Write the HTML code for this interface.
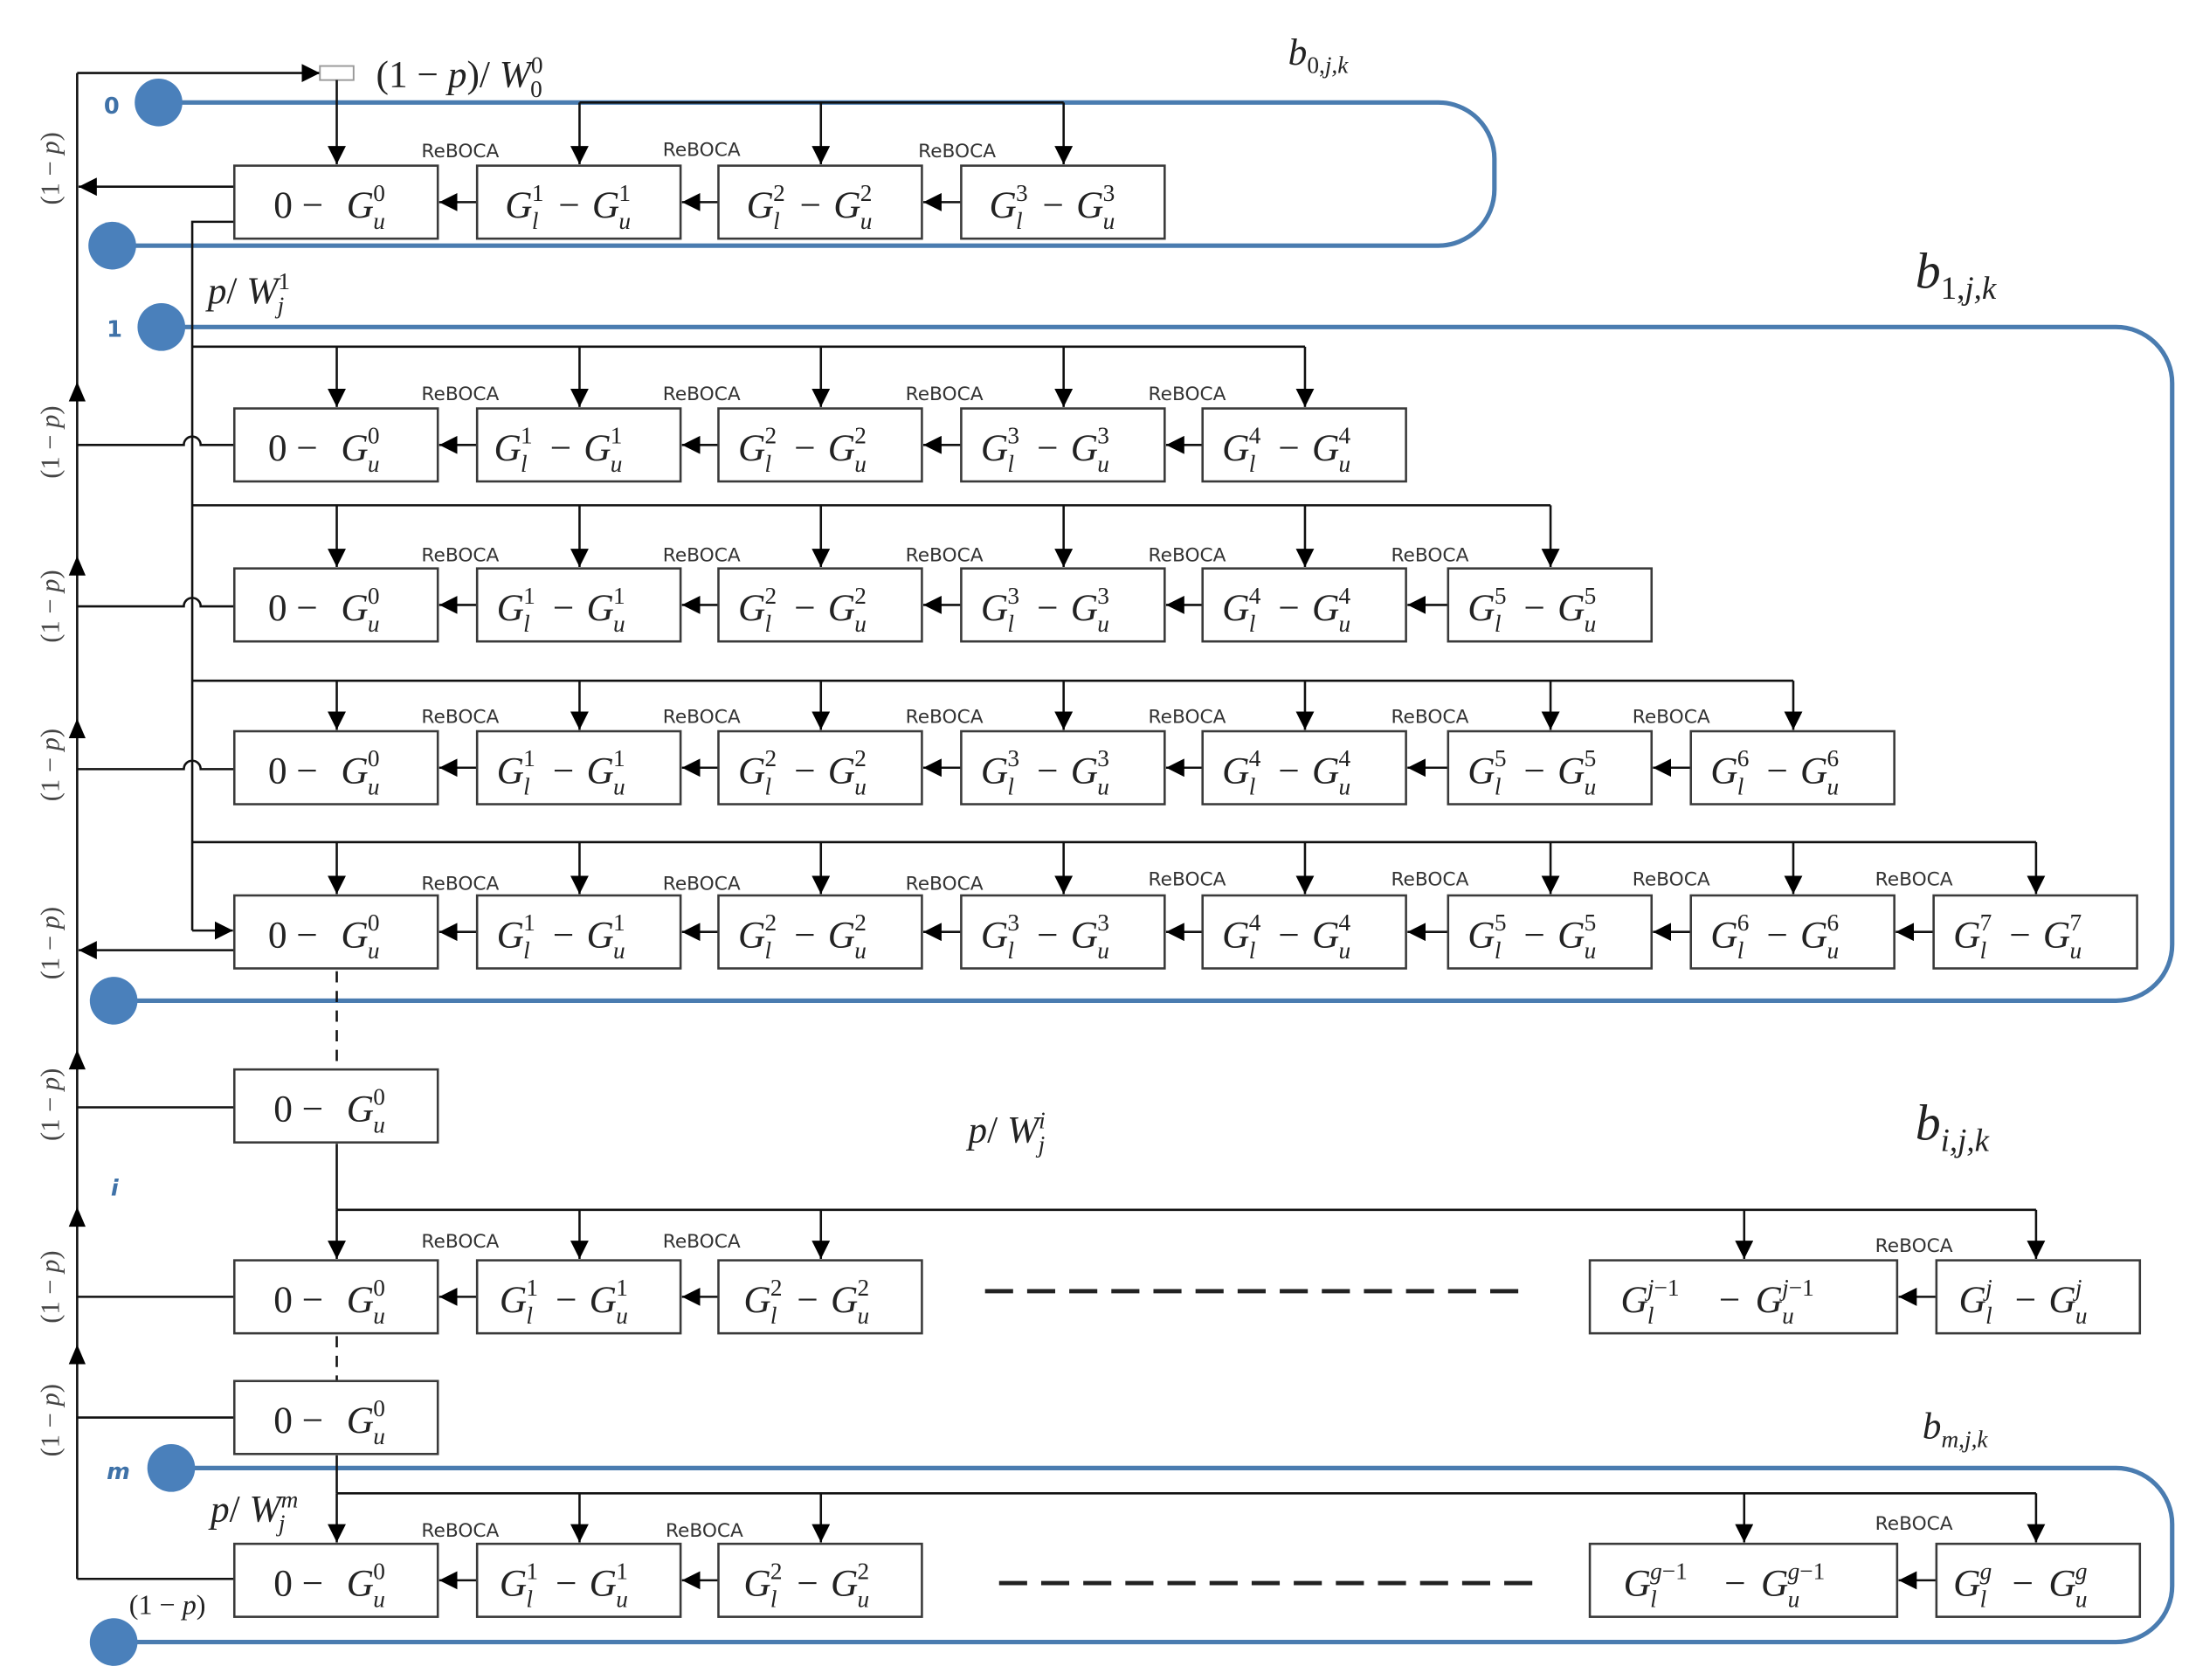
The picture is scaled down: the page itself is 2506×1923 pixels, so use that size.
<!DOCTYPE html>
<html><head><meta charset="utf-8"><style>
html,body{margin:0;padding:0;background:#fff}
svg{display:block}
.b rect{fill:#fff;stroke:#3a3a3a;stroke-width:1.6}
.m{font-family:"Liberation Serif",serif;font-style:italic;font-size:27px;fill:#222}
.m .s{font-size:17px}
.m .n{font-style:normal}
.r{font-family:"DejaVu Sans","Liberation Sans",sans-serif;font-size:13.5px;fill:#333}
.k{stroke:#111;stroke-width:1.6;fill:none}
.bl{stroke:#4a7cb0;stroke-width:3.2;fill:none}
.p{font-family:"Liberation Serif",serif;font-size:19px;fill:#444}
.lbl{font-family:"DejaVu Sans","Liberation Sans",sans-serif;font-weight:bold;font-size:16px;fill:#3f72a8}
</style></head><body>
<svg width="2506" height="1923" viewBox="0 0 1560 1197" xmlns="http://www.w3.org/2000/svg">
<defs>
<marker id="a" viewBox="0 0 10 10" refX="10" refY="5" markerWidth="13" markerHeight="13" markerUnits="userSpaceOnUse" orient="auto"><path d="M0,0 L10,5 L0,10 z" fill="#000"/></marker>
</defs>

<!-- blue loops -->
<path class="bl" d="M113,73 H1025 a40,40 0 0 1 40,40 V135 a40,40 0 0 1 -40,40 H80"/>
<circle cx="113" cy="73" r="17" fill="#4a80bb"/><circle cx="80" cy="175" r="17" fill="#4a80bb"/>
<path class="bl" d="M115,233 H1508 a40,40 0 0 1 40,40 V673 a40,40 0 0 1 -40,40 H81"/>
<circle cx="115" cy="233" r="17" fill="#4a80bb"/><circle cx="81" cy="713" r="17" fill="#4a80bb"/>
<path class="bl" d="M122,1046 H1508 a40,40 0 0 1 40,40 V1130 a40,40 0 0 1 -40,40 H81"/>
<circle cx="122" cy="1046" r="17" fill="#4a80bb"/><circle cx="81" cy="1170" r="17" fill="#4a80bb"/>

<text class="lbl" x="74" y="81">0</text>
<text class="lbl" x="76" y="240">1</text>
<text class="lbl" x="79" y="852" font-style="italic">i</text>
<text class="lbl" x="76" y="1054" font-style="italic">m</text>

<!-- left main line -->
<path class="k" d="M55,52 V1125"/>
<path class="k" d="M55,52 H228" marker-end="url(#a)"/>
<rect x="228" y="47" width="24" height="10" fill="#fff" stroke="#999" stroke-width="1.2"/>
<path class="k" d="M240,57 V117" marker-end="url(#a)"/>
<path class="k" d="M167,133 H56" marker-end="url(#a)"/>
<path class="k" d="M167,677 H56" marker-end="url(#a)"/>
<path class="k" d="M55,317 H131 a6,6 0 0 1 12,0 H167"/>
<path class="k" d="M55,432 H131 a6,6 0 0 1 12,0 H167"/>
<path class="k" d="M55,548 H131 a6,6 0 0 1 12,0 H167"/>
<path class="k" d="M55,789 H167 M55,924 H167 M55,1010 H167 M55,1125 H167"/>
<g fill="#000">
<path d="M55,272 l-6,14 h12z"/><path d="M55,396 l-6,14 h12z"/><path d="M55,512 l-6,14 h12z"/>
<path d="M55,748 l-6,14 h12z"/><path d="M55,860 l-6,14 h12z"/><path d="M55,958 l-6,14 h12z"/>
</g>
<!-- x=137 line -->
<path class="k" d="M167,158 H137 V663"/>
<path class="k" d="M137,663 H166" marker-end="url(#a)"/>

<!-- (1-p) rotated -->
<g class="p">
<text transform="translate(42,120) rotate(-90)" text-anchor="middle">(1 − <tspan font-style="italic">p</tspan>)</text>
<text transform="translate(42,315) rotate(-90)" text-anchor="middle">(1 − <tspan font-style="italic">p</tspan>)</text>
<text transform="translate(42,432) rotate(-90)" text-anchor="middle">(1 − <tspan font-style="italic">p</tspan>)</text>
<text transform="translate(42,545) rotate(-90)" text-anchor="middle">(1 − <tspan font-style="italic">p</tspan>)</text>
<text transform="translate(42,672) rotate(-90)" text-anchor="middle">(1 − <tspan font-style="italic">p</tspan>)</text>
<text transform="translate(42,787) rotate(-90)" text-anchor="middle">(1 − <tspan font-style="italic">p</tspan>)</text>
<text transform="translate(42,917) rotate(-90)" text-anchor="middle">(1 − <tspan font-style="italic">p</tspan>)</text>
<text transform="translate(42,1012) rotate(-90)" text-anchor="middle">(1 − <tspan font-style="italic">p</tspan>)</text>
</g>

<!-- math labels -->
<text class="m" x="268" y="62"><tspan class="n">(1 − </tspan>p<tspan class="n">)/ </tspan>W<tspan class="s n" dy="-10">0</tspan><tspan class="s n" dx="-9" dy="17">0</tspan></text>
<text class="m" x="148" y="216">p<tspan class="n">/ </tspan>W<tspan class="s n" dy="-10">1</tspan><tspan class="s" dx="-9" dy="17">j</tspan></text>
<text class="m" x="690" y="814">p<tspan class="n">/ </tspan>W<tspan class="s" dy="-10">i</tspan><tspan class="s" dx="-5" dy="17">j</tspan></text>
<text class="m" x="150" y="1084">p<tspan class="n">/ </tspan>W<tspan class="s" dy="-10">m</tspan><tspan class="s" dx="-14" dy="17">j</tspan></text>
<text class="m" x="92" y="1150" style="font-size:20px"><tspan class="n">(1 − </tspan>p<tspan class="n">)</tspan></text>
<text class="m" x="918" y="46">b<tspan class="s n" dy="6">0,</tspan><tspan class="s" >j,k</tspan></text>
<text class="m" x="1365" y="205" style="font-size:36px">b<tspan dy="8" style="font-size:23px"><tspan class="n">1,</tspan>j,k</tspan></text>
<text class="m" x="1365" y="812" style="font-size:36px">b<tspan dy="8" style="font-size:23px">i,j,k</tspan></text>
<text class="m" x="1370" y="1025">b<tspan class="s" dy="6">m,j,k</tspan></text>

<!-- horizontal feed lines -->
<path class="k" d="M413,73 H758 M137,247 H930 M137,360 H1105 M137,485 H1278 M137,600 H1451 M240,862 H1451 M240,1064 H1451"/>
<path class="k" d="M240,815 V862 M240,1037 V1064"/>
<path class="k" stroke-dasharray="8,6" d="M240,692 V760 M240,952 V984"/>
<path stroke="#222" stroke-width="3" stroke-dasharray="20,10" d="M702,920 H1090 M712,1128 H1100"/>

<!-- down arrows -->
<g class="k">
<path d="M413,73 V117" marker-end="url(#a)"/><path d="M585,73 V117" marker-end="url(#a)"/><path d="M758,73 V117" marker-end="url(#a)"/>
<path d="M240,247 V290" marker-end="url(#a)"/><path d="M413,247 V290" marker-end="url(#a)"/><path d="M585,247 V290" marker-end="url(#a)"/><path d="M758,247 V290" marker-end="url(#a)"/><path d="M930,247 V290" marker-end="url(#a)"/>
<path d="M240,360 V404" marker-end="url(#a)"/><path d="M413,360 V404" marker-end="url(#a)"/><path d="M585,360 V404" marker-end="url(#a)"/><path d="M758,360 V404" marker-end="url(#a)"/><path d="M930,360 V404" marker-end="url(#a)"/><path d="M1105,360 V404" marker-end="url(#a)"/>
<path d="M240,485 V520" marker-end="url(#a)"/><path d="M413,485 V520" marker-end="url(#a)"/><path d="M585,485 V520" marker-end="url(#a)"/><path d="M758,485 V520" marker-end="url(#a)"/><path d="M930,485 V520" marker-end="url(#a)"/><path d="M1105,485 V520" marker-end="url(#a)"/><path d="M1278,485 V520" marker-end="url(#a)"/>
<path d="M240,600 V637" marker-end="url(#a)"/><path d="M413,600 V637" marker-end="url(#a)"/><path d="M585,600 V637" marker-end="url(#a)"/><path d="M758,600 V637" marker-end="url(#a)"/><path d="M930,600 V637" marker-end="url(#a)"/><path d="M1105,600 V637" marker-end="url(#a)"/><path d="M1278,600 V637" marker-end="url(#a)"/><path d="M1451,600 V637" marker-end="url(#a)"/>
<path d="M240,862 V897" marker-end="url(#a)"/><path d="M413,862 V897" marker-end="url(#a)"/><path d="M585,862 V897" marker-end="url(#a)"/><path d="M1243,862 V897" marker-end="url(#a)"/><path d="M1451,862 V897" marker-end="url(#a)"/>
<path d="M240,1064 V1099" marker-end="url(#a)"/><path d="M413,1064 V1099" marker-end="url(#a)"/><path d="M585,1064 V1099" marker-end="url(#a)"/><path d="M1243,1064 V1099" marker-end="url(#a)"/><path d="M1451,1064 V1099" marker-end="url(#a)"/>
</g>

<!-- left arrows between boxes -->
<g class="k">
<path d="M340,144 H313" marker-end="url(#a)"/><path d="M512,144 H486" marker-end="url(#a)"/><path d="M685,144 H658" marker-end="url(#a)"/>
<path d="M340,317 H313" marker-end="url(#a)"/><path d="M512,317 H486" marker-end="url(#a)"/><path d="M685,317 H658" marker-end="url(#a)"/><path d="M857,317 H831" marker-end="url(#a)"/>
<path d="M340,431 H313" marker-end="url(#a)"/><path d="M512,431 H486" marker-end="url(#a)"/><path d="M685,431 H658" marker-end="url(#a)"/><path d="M857,431 H831" marker-end="url(#a)"/><path d="M1032,431 H1003" marker-end="url(#a)"/>
<path d="M340,547 H313" marker-end="url(#a)"/><path d="M512,547 H486" marker-end="url(#a)"/><path d="M685,547 H658" marker-end="url(#a)"/><path d="M857,547 H831" marker-end="url(#a)"/><path d="M1032,547 H1003" marker-end="url(#a)"/><path d="M1205,547 H1178" marker-end="url(#a)"/>
<path d="M340,664 H313" marker-end="url(#a)"/><path d="M512,664 H486" marker-end="url(#a)"/><path d="M685,664 H658" marker-end="url(#a)"/><path d="M857,664 H831" marker-end="url(#a)"/><path d="M1032,664 H1003" marker-end="url(#a)"/><path d="M1205,664 H1178" marker-end="url(#a)"/><path d="M1378,664 H1351" marker-end="url(#a)"/>
<path d="M340,924 H313" marker-end="url(#a)"/><path d="M512,924 H486" marker-end="url(#a)"/><path d="M1380,924 H1353" marker-end="url(#a)"/>
<path d="M340,1126 H313" marker-end="url(#a)"/><path d="M512,1126 H486" marker-end="url(#a)"/><path d="M1380,1126 H1353" marker-end="url(#a)"/>
</g>

<!-- ReBOCA labels -->
<g class="r" text-anchor="middle">
<text x="328" y="112">ReBOCA</text><text x="500" y="111">ReBOCA</text><text x="682" y="112">ReBOCA</text>
<text x="328" y="285">ReBOCA</text><text x="500" y="285">ReBOCA</text><text x="673" y="285">ReBOCA</text><text x="846" y="285">ReBOCA</text>
<text x="328" y="400">ReBOCA</text><text x="500" y="400">ReBOCA</text><text x="673" y="400">ReBOCA</text><text x="846" y="400">ReBOCA</text><text x="1019" y="400">ReBOCA</text>
<text x="328" y="515">ReBOCA</text><text x="500" y="515">ReBOCA</text><text x="673" y="515">ReBOCA</text><text x="846" y="515">ReBOCA</text><text x="1019" y="515">ReBOCA</text><text x="1191" y="515">ReBOCA</text>
<text x="328" y="634">ReBOCA</text><text x="500" y="634">ReBOCA</text><text x="673" y="634">ReBOCA</text><text x="846" y="631">ReBOCA</text><text x="1019" y="631">ReBOCA</text><text x="1191" y="631">ReBOCA</text><text x="1364" y="631">ReBOCA</text>
<text x="328" y="889">ReBOCA</text><text x="500" y="889">ReBOCA</text><text x="1364" y="892">ReBOCA</text>
<text x="328" y="1095">ReBOCA</text><text x="502" y="1095">ReBOCA</text><text x="1364" y="1090">ReBOCA</text>
</g>

<!-- ROW 0 -->
<g class="b" transform="translate(167,118)"><rect width="145" height="52"/><text class="m"><tspan class="n" x="28" y="37">0 − </tspan><tspan x="80" y="37">G</tspan><tspan class="s n" x="99" y="25">0</tspan><tspan class="s" x="99" y="45">u</tspan></text></g>
<g class="b" transform="translate(340,118)"><rect width="145" height="52"/><text class="m"><tspan x="20" y="37">G</tspan><tspan class="s n" x="39" y="25">1</tspan><tspan class="s" x="39" y="45">l</tspan><tspan class="n" x="58" y="37">−</tspan><tspan x="82" y="37">G</tspan><tspan class="s n" x="101" y="25">1</tspan><tspan class="s" x="101" y="45">u</tspan></text></g>
<g class="b" transform="translate(512,118)"><rect width="145" height="52"/><text class="m"><tspan x="20" y="37">G</tspan><tspan class="s n" x="39" y="25">2</tspan><tspan class="s" x="39" y="45">l</tspan><tspan class="n" x="58" y="37">−</tspan><tspan x="82" y="37">G</tspan><tspan class="s n" x="101" y="25">2</tspan><tspan class="s" x="101" y="45">u</tspan></text></g>
<g class="b" transform="translate(685,118)"><rect width="145" height="52"/><text class="m"><tspan x="20" y="37">G</tspan><tspan class="s n" x="39" y="25">3</tspan><tspan class="s" x="39" y="45">l</tspan><tspan class="n" x="58" y="37">−</tspan><tspan x="82" y="37">G</tspan><tspan class="s n" x="101" y="25">3</tspan><tspan class="s" x="101" y="45">u</tspan></text></g>

<!-- ROW 1 -->
<g class="b" transform="translate(167,291)"><rect width="145" height="52"/><text class="m"><tspan class="n" x="24" y="37">0 − </tspan><tspan x="76" y="37">G</tspan><tspan class="s n" x="95" y="25">0</tspan><tspan class="s" x="95" y="45">u</tspan></text></g>
<g class="b" transform="translate(340,291)"><rect width="145" height="52"/><text class="m"><tspan x="12" y="37">G</tspan><tspan class="s n" x="31" y="25">1</tspan><tspan class="s" x="31" y="45">l</tspan><tspan class="n" x="52" y="37">−</tspan><tspan x="76" y="37">G</tspan><tspan class="s n" x="95" y="25">1</tspan><tspan class="s" x="95" y="45">u</tspan></text></g>
<g class="b" transform="translate(512,291)"><rect width="145" height="52"/><text class="m"><tspan x="14" y="37">G</tspan><tspan class="s n" x="33" y="25">2</tspan><tspan class="s" x="33" y="45">l</tspan><tspan class="n" x="54" y="37">−</tspan><tspan x="78" y="37">G</tspan><tspan class="s n" x="97" y="25">2</tspan><tspan class="s" x="97" y="45">u</tspan></text></g>
<g class="b" transform="translate(685,291)"><rect width="145" height="52"/><text class="m"><tspan x="14" y="37">G</tspan><tspan class="s n" x="33" y="25">3</tspan><tspan class="s" x="33" y="45">l</tspan><tspan class="n" x="54" y="37">−</tspan><tspan x="78" y="37">G</tspan><tspan class="s n" x="97" y="25">3</tspan><tspan class="s" x="97" y="45">u</tspan></text></g>
<g class="b" transform="translate(857,291)"><rect width="145" height="52"/><text class="m"><tspan x="14" y="37">G</tspan><tspan class="s n" x="33" y="25">4</tspan><tspan class="s" x="33" y="45">l</tspan><tspan class="n" x="54" y="37">−</tspan><tspan x="78" y="37">G</tspan><tspan class="s n" x="97" y="25">4</tspan><tspan class="s" x="97" y="45">u</tspan></text></g>

<!-- ROW 2 -->
<g class="b" transform="translate(167,405)"><rect width="145" height="52"/><text class="m"><tspan class="n" x="24" y="37">0 − </tspan><tspan x="76" y="37">G</tspan><tspan class="s n" x="95" y="25">0</tspan><tspan class="s" x="95" y="45">u</tspan></text></g>
<g class="b" transform="translate(340,405)"><rect width="145" height="52"/><text class="m"><tspan x="14" y="37">G</tspan><tspan class="s n" x="33" y="25">1</tspan><tspan class="s" x="33" y="45">l</tspan><tspan class="n" x="54" y="37">−</tspan><tspan x="78" y="37">G</tspan><tspan class="s n" x="97" y="25">1</tspan><tspan class="s" x="97" y="45">u</tspan></text></g>
<g class="b" transform="translate(512,405)"><rect width="145" height="52"/><text class="m"><tspan x="14" y="37">G</tspan><tspan class="s n" x="33" y="25">2</tspan><tspan class="s" x="33" y="45">l</tspan><tspan class="n" x="54" y="37">−</tspan><tspan x="78" y="37">G</tspan><tspan class="s n" x="97" y="25">2</tspan><tspan class="s" x="97" y="45">u</tspan></text></g>
<g class="b" transform="translate(685,405)"><rect width="145" height="52"/><text class="m"><tspan x="14" y="37">G</tspan><tspan class="s n" x="33" y="25">3</tspan><tspan class="s" x="33" y="45">l</tspan><tspan class="n" x="54" y="37">−</tspan><tspan x="78" y="37">G</tspan><tspan class="s n" x="97" y="25">3</tspan><tspan class="s" x="97" y="45">u</tspan></text></g>
<g class="b" transform="translate(857,405)"><rect width="145" height="52"/><text class="m"><tspan x="14" y="37">G</tspan><tspan class="s n" x="33" y="25">4</tspan><tspan class="s" x="33" y="45">l</tspan><tspan class="n" x="54" y="37">−</tspan><tspan x="78" y="37">G</tspan><tspan class="s n" x="97" y="25">4</tspan><tspan class="s" x="97" y="45">u</tspan></text></g>
<g class="b" transform="translate(1032,405)"><rect width="145" height="52"/><text class="m"><tspan x="14" y="37">G</tspan><tspan class="s n" x="33" y="25">5</tspan><tspan class="s" x="33" y="45">l</tspan><tspan class="n" x="54" y="37">−</tspan><tspan x="78" y="37">G</tspan><tspan class="s n" x="97" y="25">5</tspan><tspan class="s" x="97" y="45">u</tspan></text></g>

<!-- ROW 3 -->
<g class="b" transform="translate(167,521)"><rect width="145" height="52"/><text class="m"><tspan class="n" x="24" y="37">0 − </tspan><tspan x="76" y="37">G</tspan><tspan class="s n" x="95" y="25">0</tspan><tspan class="s" x="95" y="45">u</tspan></text></g>
<g class="b" transform="translate(340,521)"><rect width="145" height="52"/><text class="m"><tspan x="14" y="37">G</tspan><tspan class="s n" x="33" y="25">1</tspan><tspan class="s" x="33" y="45">l</tspan><tspan class="n" x="54" y="37">−</tspan><tspan x="78" y="37">G</tspan><tspan class="s n" x="97" y="25">1</tspan><tspan class="s" x="97" y="45">u</tspan></text></g>
<g class="b" transform="translate(512,521)"><rect width="145" height="52"/><text class="m"><tspan x="14" y="37">G</tspan><tspan class="s n" x="33" y="25">2</tspan><tspan class="s" x="33" y="45">l</tspan><tspan class="n" x="54" y="37">−</tspan><tspan x="78" y="37">G</tspan><tspan class="s n" x="97" y="25">2</tspan><tspan class="s" x="97" y="45">u</tspan></text></g>
<g class="b" transform="translate(685,521)"><rect width="145" height="52"/><text class="m"><tspan x="14" y="37">G</tspan><tspan class="s n" x="33" y="25">3</tspan><tspan class="s" x="33" y="45">l</tspan><tspan class="n" x="54" y="37">−</tspan><tspan x="78" y="37">G</tspan><tspan class="s n" x="97" y="25">3</tspan><tspan class="s" x="97" y="45">u</tspan></text></g>
<g class="b" transform="translate(857,521)"><rect width="145" height="52"/><text class="m"><tspan x="14" y="37">G</tspan><tspan class="s n" x="33" y="25">4</tspan><tspan class="s" x="33" y="45">l</tspan><tspan class="n" x="54" y="37">−</tspan><tspan x="78" y="37">G</tspan><tspan class="s n" x="97" y="25">4</tspan><tspan class="s" x="97" y="45">u</tspan></text></g>
<g class="b" transform="translate(1032,521)"><rect width="145" height="52"/><text class="m"><tspan x="14" y="37">G</tspan><tspan class="s n" x="33" y="25">5</tspan><tspan class="s" x="33" y="45">l</tspan><tspan class="n" x="54" y="37">−</tspan><tspan x="78" y="37">G</tspan><tspan class="s n" x="97" y="25">5</tspan><tspan class="s" x="97" y="45">u</tspan></text></g>
<g class="b" transform="translate(1205,521)"><rect width="145" height="52"/><text class="m"><tspan x="14" y="37">G</tspan><tspan class="s n" x="33" y="25">6</tspan><tspan class="s" x="33" y="45">l</tspan><tspan class="n" x="54" y="37">−</tspan><tspan x="78" y="37">G</tspan><tspan class="s n" x="97" y="25">6</tspan><tspan class="s" x="97" y="45">u</tspan></text></g>

<!-- ROW 4 -->
<g class="b" transform="translate(167,638)"><rect width="145" height="52"/><text class="m"><tspan class="n" x="24" y="37">0 − </tspan><tspan x="76" y="37">G</tspan><tspan class="s n" x="95" y="25">0</tspan><tspan class="s" x="95" y="45">u</tspan></text></g>
<g class="b" transform="translate(340,638)"><rect width="145" height="52"/><text class="m"><tspan x="14" y="37">G</tspan><tspan class="s n" x="33" y="25">1</tspan><tspan class="s" x="33" y="45">l</tspan><tspan class="n" x="54" y="37">−</tspan><tspan x="78" y="37">G</tspan><tspan class="s n" x="97" y="25">1</tspan><tspan class="s" x="97" y="45">u</tspan></text></g>
<g class="b" transform="translate(512,638)"><rect width="145" height="52"/><text class="m"><tspan x="14" y="37">G</tspan><tspan class="s n" x="33" y="25">2</tspan><tspan class="s" x="33" y="45">l</tspan><tspan class="n" x="54" y="37">−</tspan><tspan x="78" y="37">G</tspan><tspan class="s n" x="97" y="25">2</tspan><tspan class="s" x="97" y="45">u</tspan></text></g>
<g class="b" transform="translate(685,638)"><rect width="145" height="52"/><text class="m"><tspan x="14" y="37">G</tspan><tspan class="s n" x="33" y="25">3</tspan><tspan class="s" x="33" y="45">l</tspan><tspan class="n" x="54" y="37">−</tspan><tspan x="78" y="37">G</tspan><tspan class="s n" x="97" y="25">3</tspan><tspan class="s" x="97" y="45">u</tspan></text></g>
<g class="b" transform="translate(857,638)"><rect width="145" height="52"/><text class="m"><tspan x="14" y="37">G</tspan><tspan class="s n" x="33" y="25">4</tspan><tspan class="s" x="33" y="45">l</tspan><tspan class="n" x="54" y="37">−</tspan><tspan x="78" y="37">G</tspan><tspan class="s n" x="97" y="25">4</tspan><tspan class="s" x="97" y="45">u</tspan></text></g>
<g class="b" transform="translate(1032,638)"><rect width="145" height="52"/><text class="m"><tspan x="14" y="37">G</tspan><tspan class="s n" x="33" y="25">5</tspan><tspan class="s" x="33" y="45">l</tspan><tspan class="n" x="54" y="37">−</tspan><tspan x="78" y="37">G</tspan><tspan class="s n" x="97" y="25">5</tspan><tspan class="s" x="97" y="45">u</tspan></text></g>
<g class="b" transform="translate(1205,638)"><rect width="145" height="52"/><text class="m"><tspan x="14" y="37">G</tspan><tspan class="s n" x="33" y="25">6</tspan><tspan class="s" x="33" y="45">l</tspan><tspan class="n" x="54" y="37">−</tspan><tspan x="78" y="37">G</tspan><tspan class="s n" x="97" y="25">6</tspan><tspan class="s" x="97" y="45">u</tspan></text></g>
<g class="b" transform="translate(1378,638)"><rect width="145" height="52"/><text class="m"><tspan x="14" y="37">G</tspan><tspan class="s n" x="33" y="25">7</tspan><tspan class="s" x="33" y="45">l</tspan><tspan class="n" x="54" y="37">−</tspan><tspan x="78" y="37">G</tspan><tspan class="s n" x="97" y="25">7</tspan><tspan class="s" x="97" y="45">u</tspan></text></g>

<!-- single boxes -->
<g class="b" transform="translate(167,762)"><rect width="145" height="52"/><text class="m"><tspan class="n" x="28" y="37">0 − </tspan><tspan x="80" y="37">G</tspan><tspan class="s n" x="99" y="25">0</tspan><tspan class="s" x="99" y="45">u</tspan></text></g>
<g class="b" transform="translate(167,984)"><rect width="145" height="52"/><text class="m"><tspan class="n" x="28" y="37">0 − </tspan><tspan x="80" y="37">G</tspan><tspan class="s n" x="99" y="25">0</tspan><tspan class="s" x="99" y="45">u</tspan></text></g>

<!-- ROW i -->
<g class="b" transform="translate(167,898)"><rect width="145" height="52"/><text class="m"><tspan class="n" x="28" y="37">0 − </tspan><tspan x="80" y="37">G</tspan><tspan class="s n" x="99" y="25">0</tspan><tspan class="s" x="99" y="45">u</tspan></text></g>
<g class="b" transform="translate(340,898)"><rect width="145" height="52"/><text class="m"><tspan x="16" y="37">G</tspan><tspan class="s n" x="35" y="25">1</tspan><tspan class="s" x="35" y="45">l</tspan><tspan class="n" x="56" y="37">−</tspan><tspan x="80" y="37">G</tspan><tspan class="s n" x="99" y="25">1</tspan><tspan class="s" x="99" y="45">u</tspan></text></g>
<g class="b" transform="translate(512,898)"><rect width="145" height="52"/><text class="m"><tspan x="18" y="37">G</tspan><tspan class="s n" x="37" y="25">2</tspan><tspan class="s" x="37" y="45">l</tspan><tspan class="n" x="56" y="37">−</tspan><tspan x="80" y="37">G</tspan><tspan class="s n" x="99" y="25">2</tspan><tspan class="s" x="99" y="45">u</tspan></text></g>
<g class="b" transform="translate(1133,898)"><rect width="219" height="52"/><text class="m"><tspan x="22" y="37">G</tspan><tspan class="s" x="41" y="25">j<tspan class="n">−1</tspan></tspan><tspan class="s" x="41" y="45">l</tspan><tspan class="n" x="92" y="37">−</tspan><tspan x="118" y="37">G</tspan><tspan class="s" x="137" y="25">j<tspan class="n">−1</tspan></tspan><tspan class="s" x="137" y="45">u</tspan></text></g>
<g class="b" transform="translate(1380,898)"><rect width="145" height="52"/><text class="m"><tspan x="16" y="37">G</tspan><tspan class="s" x="35" y="25">j</tspan><tspan class="s" x="35" y="45">l</tspan><tspan class="n" x="56" y="37">−</tspan><tspan x="80" y="37">G</tspan><tspan class="s" x="99" y="25">j</tspan><tspan class="s" x="99" y="45">u</tspan></text></g>

<!-- ROW m -->
<g class="b" transform="translate(167,1100)"><rect width="145" height="52"/><text class="m"><tspan class="n" x="28" y="37">0 − </tspan><tspan x="80" y="37">G</tspan><tspan class="s n" x="99" y="25">0</tspan><tspan class="s" x="99" y="45">u</tspan></text></g>
<g class="b" transform="translate(340,1100)"><rect width="145" height="52"/><text class="m"><tspan x="16" y="37">G</tspan><tspan class="s n" x="35" y="25">1</tspan><tspan class="s" x="35" y="45">l</tspan><tspan class="n" x="56" y="37">−</tspan><tspan x="80" y="37">G</tspan><tspan class="s n" x="99" y="25">1</tspan><tspan class="s" x="99" y="45">u</tspan></text></g>
<g class="b" transform="translate(512,1100)"><rect width="145" height="52"/><text class="m"><tspan x="18" y="37">G</tspan><tspan class="s n" x="37" y="25">2</tspan><tspan class="s" x="37" y="45">l</tspan><tspan class="n" x="56" y="37">−</tspan><tspan x="80" y="37">G</tspan><tspan class="s n" x="99" y="25">2</tspan><tspan class="s" x="99" y="45">u</tspan></text></g>
<g class="b" transform="translate(1133,1100)"><rect width="219" height="52"/><text class="m"><tspan x="24" y="37">G</tspan><tspan class="s" x="43" y="25">g<tspan class="n">−1</tspan></tspan><tspan class="s" x="43" y="45">l</tspan><tspan class="n" x="96" y="37">−</tspan><tspan x="122" y="37">G</tspan><tspan class="s" x="141" y="25">g<tspan class="n">−1</tspan></tspan><tspan class="s" x="141" y="45">u</tspan></text></g>
<g class="b" transform="translate(1380,1100)"><rect width="145" height="52"/><text class="m"><tspan x="12" y="37">G</tspan><tspan class="s" x="31" y="25">g</tspan><tspan class="s" x="31" y="45">l</tspan><tspan class="n" x="54" y="37">−</tspan><tspan x="80" y="37">G</tspan><tspan class="s" x="99" y="25">g</tspan><tspan class="s" x="99" y="45">u</tspan></text></g>
</svg>
</body></html>
